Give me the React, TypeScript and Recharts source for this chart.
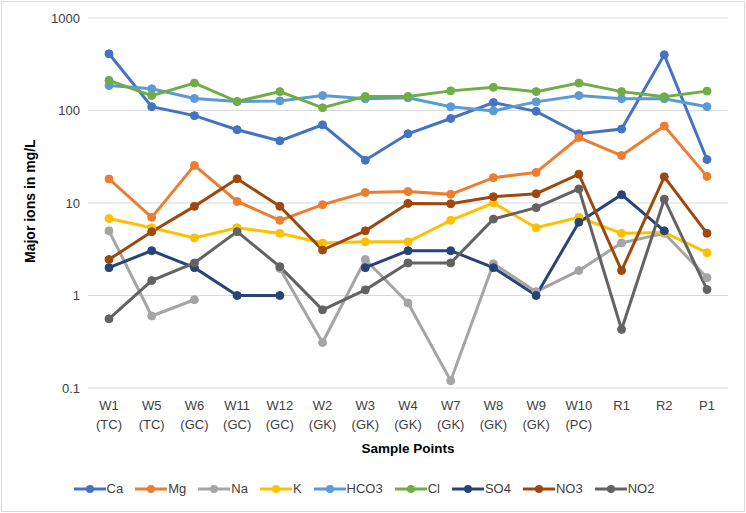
import { LineChart, Line, XAxis, YAxis, CartesianGrid, Legend } from "recharts";

const samplePoints = [
  "W1 (TC)", "W5 (TC)", "W6 (GC)", "W11 (GC)", "W12 (GC)", "W2 (GK)", "W3 (GK)",
  "W4 (GK)", "W7 (GK)", "W8 (GK)", "W9 (GK)", "W10 (PC)", "R1", "R2", "P1",
];

const ca = [410, 110, 88, 62, 47, 70, 29, 56, 82, 122, 98, 56, 63, 400, 29.5];
const mg = [18.2, 7, 25.5, 10.4, 6.5, 9.6, 13, 13.3, 12.4, 18.8, 21.4, 51, 32.6, 68, 19.4];
const na = [5.0, 0.6, 0.9, null, 1.96, 0.31, 2.45, 0.83, 0.12, 2.2, 1.1, 1.86, 3.7, 4.7, 1.56];
const k = [6.8, 5.4, 4.2, 5.4, 4.7, 3.7, 3.8, 3.8, 6.5, 10, 5.4, 7, 4.7, 4.8, 2.9];
const hco3 = [186, 172, 135, 125, 127, 145, 134, 137, 110, 99, 124, 145, 134, 134, 110];
const cl = [212, 145, 198, 125, 160, 107, 142, 142, 163, 178, 160, 198, 160, 141, 162];
const so4 = [2.0, 3.05, 2.0, 1.0, 1.0, null, 2.0, 3.05, 3.05, 2.0, 1.0, 6.2, 12.3, 5.0, null];
const no3 = [2.45, 4.9, 9.2, 18.3, 9.2, 3.1, 5.0, 9.9, 9.8, 11.7, 12.6, 20.5, 1.86, 19.2, 4.7];
const no2 = [0.56, 1.45, 2.25, 4.9, 2.05, 0.7, 1.15, 2.25, 2.25, 6.7, 8.9, 14.2, 0.43, 11, 1.16];

const yTicks = [0.1, 1, 10, 100, 1000];

const seriesList = [
  { key: "Ca", values: ca, color: "#4472C4" },
  { key: "Mg", values: mg, color: "#ED7D31" },
  { key: "Na", values: na, color: "#A5A5A5" },
  { key: "K", values: k, color: "#FFC000" },
  { key: "HCO3", values: hco3, color: "#5B9BD5" },
  { key: "Cl", values: cl, color: "#70AD47" },
  { key: "SO4", values: so4, color: "#264478" },
  { key: "NO3", values: no3, color: "#9E480E" },
  { key: "NO2", values: no2, color: "#636363" },
];

const rows = samplePoints.map((name, i) => {
  const row: Record<string, string | number | null> = { name };
  seriesList.forEach((s) => {
    row[s.key] = s.values[i];
  });
  return row;
});

const FONT = "'Liberation Sans', Arial, sans-serif";

// two-line category label: well id on top, area code below
const SampleTick = (props: any) => {
  const { x, y, payload } = props;
  const [top, bottom] = String(payload.value).split(" ");
  return (
    <text x={x} y={y} textAnchor="middle" fill="#404040" fontSize={13} fontFamily={FONT}>
      <tspan x={x} dy={14}>{top}</tspan>
      {bottom && <tspan x={x} dy={19}>{bottom}</tspan>}
    </text>
  );
};

const LegendRow = () => (
  <div style={{ display: "flex", justifyContent: "center", gap: 12, fontFamily: FONT, fontSize: 13, color: "#404040" }}>
    {seriesList.map((s) => (
      <span key={s.key} style={{ display: "flex", alignItems: "center" }}>
        <svg width={32} height={12}>
          <line x1={0} y1={6} x2={32} y2={6} stroke={s.color} strokeWidth={3} />
          <circle cx={16} cy={6} r={4} fill={s.color} />
        </svg>
        <span style={{ marginLeft: 1 }}>{s.key}</span>
      </span>
    ))}
  </div>
);

export default function App() {
  return (
    <div style={{ position: "absolute", left: 0, top: 0, width: 746, height: 513, background: "#fff" }}>
      <div style={{ position: "absolute", left: 1, top: 1, width: 742, height: 509, border: "1px solid #d9d9d9" }} />
      <LineChart
        width={746}
        height={513}
        data={rows}
        margin={{ top: 18, right: 18, left: 0, bottom: 6 }}
      >
        <CartesianGrid vertical={false} stroke="#d9d9d9" strokeWidth={1} />
        <XAxis
          dataKey="name"
          interval={0}
          padding={{ left: 21, right: 21 }}
          tick={<SampleTick />}
          tickLine={false}
          axisLine={false}
          height={93}
          label={{ value: "Sample Points", position: "insideBottom", offset: 28, fill: "#000", fontSize: 13.5, fontWeight: 700, fontFamily: FONT }}
        />
        <YAxis
          scale="log"
          domain={[0.1, 1000]}
          ticks={yTicks}
          allowDataOverflow
          width={88}
          tickLine={false}
          axisLine={false}
          tick={{ fill: "#404040", fontSize: 13, fontFamily: FONT }}
          tickFormatter={(v: number) => String(v)}
          label={{ value: "Major ions in mg/L", angle: -90, position: "insideLeft", offset: 30, dy: 60, fill: "#000", fontSize: 14, fontWeight: 700, fontFamily: FONT }}
        />
        <Legend verticalAlign="bottom" height={26} content={<LegendRow />} />
        {seriesList.map((s) => (
          <Line
            key={s.key}
            dataKey={s.key}
            name={s.key}
            stroke={s.color}
            strokeWidth={3}
            dot={{ r: 4, fill: s.color, stroke: s.color, strokeWidth: 1 }}
            type="linear"
            isAnimationActive={false}
          />
        ))}
      </LineChart>
    </div>
  );
}
